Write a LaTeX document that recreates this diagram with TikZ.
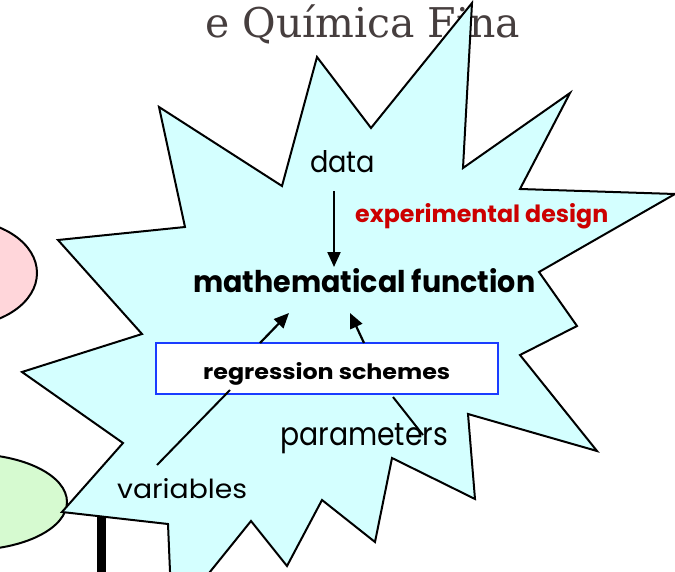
\documentclass[tikz,border=0pt]{standalone}
\usepackage{fontspec}
\usepackage{graphicx}
\setmainfont{Poppins}
\newfontfamily\titlefont{DejaVu Serif}
\usetikzlibrary{arrows.meta}
\definecolor{starfill}{RGB}{212,255,255}
\definecolor{pinkfill}{RGB}{255,214,218}
\definecolor{greenfill}{RGB}{214,250,208}
\definecolor{titlegray}{RGB}{70,62,62}
\definecolor{boxblue}{RGB}{26,60,255}
\definecolor{designred}{RGB}{204,0,0}
\tikzset{
  outline/.style={draw=black, line width=2bp, line join=miter},
  lbl/.style={inner sep=0pt, anchor=base west, text=black},
  arr/.style={line width=2.2bp, -{Triangle[length=15bp,width=13bp]}},
  plainline/.style={line width=2bp},
  regbox/.style={draw=boxblue, fill=white, line width=2.2bp, minimum width=342bp, minimum height=51bp, inner sep=0pt}
}
\begin{document}
\begin{tikzpicture}[x=1bp,y=-1bp]
\useasboundingbox (0,0) rectangle (675,572);
\clip (0,0) rectangle (675,572);
% title (partly hidden by the star)
\node[inner sep=0pt, anchor=base west, text=titlegray] (title) at (205,38) {\resizebox{315bp}{!}{\titlefont e Química Fina}};
% side ellipses
\draw[outline, fill=pinkfill] (-40,273) ellipse [x radius=77, y radius=53];
\draw[outline, fill=greenfill] (-30,502) ellipse [x radius=97, y radius=48];
% thick bar
\fill[black] (97,514) rectangle (106,580);
% star
\draw[outline, fill=starfill]
  (317,57) -- (371,128) -- (472,3) -- (463,168) -- (570,93) -- (520,189)
  -- (675,194) -- (539,272) -- (577,326) -- (520,355) -- (597,451)
  -- (468,414) -- (475,499) -- (392,458) -- (375,542) -- (322,500)
  -- (287,566) -- (251,521) -- (172,619) -- (168,524) -- (62,512)
  -- (123,443) -- (22,372) -- (142,334) -- (58,240) -- (185,227)
  -- (159,107) -- (282,186) -- cycle;
% texts
\node[lbl] (data) at (310,173) {\resizebox{65bp}{22bp}{data}};
\node[lbl, text=designred] (design) at (355,222) {\resizebox{253bp}{19bp}{\bfseries experimental design}};
\node[lbl] (mf) at (193,292) {\resizebox{342bp}{24bp}{\bfseries mathematical function}};
\node[regbox] (rs) at (327,368.5) {};
\node[lbl] (rstext) at (203,379) {\resizebox{247bp}{17bp}{\bfseries regression schemes}};
\node[lbl] (param) at (280,445) {\resizebox{168bp}{22bp}{parameters}};
\node[lbl] (var) at (117,498) {\resizebox{130bp}{20bp}{variables}};
% connector end points
\coordinate (d1) at (334,191);
\coordinate (d2) at (334,267);
\coordinate (a1s) at (260,343);
\coordinate (a1e) at (289,313);
\coordinate (a2s) at (364,343);
\coordinate (a2e) at (350,313);
\coordinate (v1) at (157,465);
\coordinate (v2) at (230,390);
\coordinate (p1) at (393,397);
\coordinate (p2) at (423,435);
% connectors
\draw[arr] (d1) -- (d2);
\draw[arr] (a1s) -- (a1e);
\draw[arr] (a2s) -- (a2e);
\draw[plainline] (v1) -- (v2);
\draw[plainline] (p1) -- (p2);
\end{tikzpicture}
\end{document}
